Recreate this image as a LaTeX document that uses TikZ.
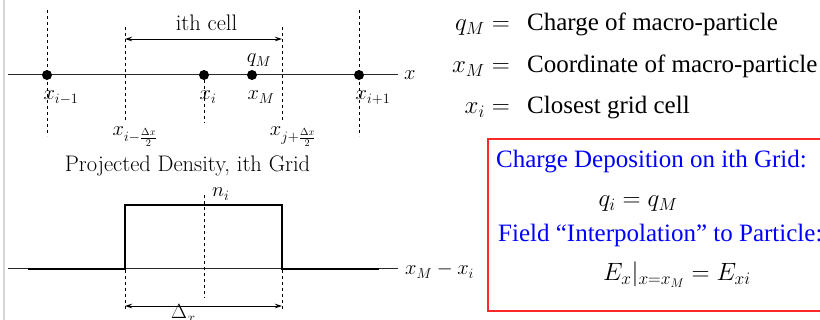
\RequirePackage{fix-cm}
\documentclass[tikz,border=0pt]{standalone}
\usepackage{fontspec}
\usetikzlibrary{arrows.meta}
\newfontfamily\tms[Ligatures=TeX]{Liberation Serif}
\definecolor{axisgray}{RGB}{40,40,40}
\definecolor{edgegray}{RGB}{215,215,215}
\definecolor{bluetxt}{RGB}{0,0,255}
\definecolor{redbox}{RGB}{255,40,40}
\tikzset{
  lbl/.style={inner sep=0pt, font=\fontsize{20.5}{24}\selectfont},
  ttl/.style={inner sep=0pt, font=\fontsize{22.5}{27}\selectfont},
  rlbl/.style={inner sep=0pt, font=\fontsize{25}{30}\selectfont},
  rtxt/.style={inner sep=0pt, anchor=base west, font=\tms\fontsize{25}{30}\selectfont},
  btxt/.style={inner sep=0pt, anchor=base west, text=bluetxt, font=\tms\fontsize{25}{30}\selectfont},
  axisline/.style={draw=axisgray, line width=1pt},
  vdash/.style={draw=black, line width=0.9pt, dash pattern=on 3.5pt off 2.5pt},
  dot/.style={circle, fill=black, inner sep=0pt, minimum size=10pt},
  dimarrow/.style={draw=black, line width=0.9pt, {Stealth[length=7pt,width=4.5pt]}-{Stealth[length=7pt,width=4.5pt]}},
  pulse/.style={draw=black, line width=2.2pt, line join=miter},
}
\begin{document}
\begin{tikzpicture}[x=1pt,y=-1pt]
\useasboundingbox (0,0) rectangle (820,320);
\fill[white] (0,0) rectangle (820,320);
% left edge line
\coordinate (et) at (4,0); \coordinate (eb) at (4,320);
\draw[edgegray, line width=1.6pt] (et) -- (eb);

% ===== top grid diagram =====
\coordinate (a0) at (8,75); \coordinate (a1) at (398,75);
\draw[axisline] (a0) -- (a1);
\node[lbl, anchor=west] (xax) at (404,75) {$x$};

% dashed verticals
\coordinate (v1t) at (47,10);  \coordinate (v1b) at (47,136);
\coordinate (v2t) at (125,27); \coordinate (v2b) at (125,122);
\coordinate (v3t) at (204,80); \coordinate (v3b) at (204,123);
\coordinate (v4t) at (282,27); \coordinate (v4b) at (282,122);
\coordinate (v5t) at (359,10); \coordinate (v5b) at (359,136);
\foreach \i in {1,...,5} { \draw[vdash] (v\i t) -- (v\i b); }

% dots
\node[dot] (d1) at (47,75) {};
\node[dot] (d2) at (204,75) {};
\node[dot] (d3) at (252,75) {};
\node[dot] (d4) at (359,75) {};

% cell arrow
\coordinate (c0) at (125,39); \coordinate (c1) at (282,39);
\draw[dimarrow] (c0) -- (c1);
\node[ttl, anchor=base] (cell) at (206.5,31) {ith cell};

% labels
\node[lbl, anchor=base] (lxim1) at (61,100) {$x_{i-1}$};
\node[lbl, anchor=base] (lxi) at (208,100) {$x_i$};
\node[lbl, anchor=base] (lxM) at (261,100) {$x_M$};
\node[lbl, anchor=base] (lxip1) at (373,100) {$x_{i+1}$};
\node[lbl, anchor=base] (lqM) at (259,63) {$q_M$};
\node[lbl, anchor=base] (lhm) at (135,136) {$x_{i-\frac{\Delta x}{2}}$};
\node[lbl, anchor=base] (lhp) at (293,136) {$x_{j+\frac{\Delta x}{2}}$};

% ===== bottom density diagram =====
\node[ttl, anchor=base] (ptitle) at (187.5,172) {Projected Density, ith Grid};
\coordinate (b0) at (8,269); \coordinate (b1) at (398,269);
\draw[axisline] (b0) -- (b1);
\node[lbl, anchor=base west] (bax) at (405,275) {$x_M - x_i$};
\coordinate (p0) at (28,269); \coordinate (p1) at (125,269);
\coordinate (p2) at (125,205); \coordinate (p3) at (282,205);
\coordinate (p4) at (282,269); \coordinate (p5) at (379,269);
\draw[pulse] (p0) -- (p1) -- (p2) -- (p3) -- (p4) -- (p5);
\coordinate (m0) at (204,195); \coordinate (m1) at (204,298);
\draw[vdash] (m0) -- (m1);
\node[lbl, anchor=base west] (ni) at (212,197) {$n_i$};
\coordinate (e0t) at (125,270); \coordinate (e0b) at (125,311);
\coordinate (e1t) at (282,270); \coordinate (e1b) at (282,311);
\draw[vdash] (e0t) -- (e0b);
\draw[vdash] (e1t) -- (e1b);
\coordinate (w0) at (125,306); \coordinate (w1) at (282,306);
\draw[dimarrow] (w0) -- (w1);
\node[lbl, anchor=base west] (dx) at (171,319) {$\Delta_x$};

% ===== right definitions =====
\node[rlbl, anchor=base east] (eq1) at (510,31) {$q_M =$};
\node[rlbl, anchor=base east] (eq2) at (510,73) {$x_M =$};
\node[rlbl, anchor=base east] (eq3) at (510,114) {$x_i =$};
\node[rtxt] (t1) at (527,31) {Charge of macro-particle};
\node[rtxt] (t2) at (527,73) {Coordinate of macro-particle};
\node[rtxt] (t3) at (527,114) {Closest grid cell};

% ===== red box =====
\coordinate (r0) at (488,139); \coordinate (r1) at (830,311);
\draw[redbox, line width=1.2pt] (r0) rectangle (r1);
\node[btxt] (bt1) at (496,168) {Charge Deposition on ith Grid:};
\node[rlbl, anchor=base] (beq1) at (638,207) {$q_i = q_M$};
\node[btxt] (bt2) at (498,242) {Field \textquotedblleft Interpolation\textquotedblright\ to Particle:};
\node[rlbl, anchor=base] (beq2) at (677,281) {$E_x|_{x=x_M} = E_{xi}$};
\end{tikzpicture}
\end{document}
